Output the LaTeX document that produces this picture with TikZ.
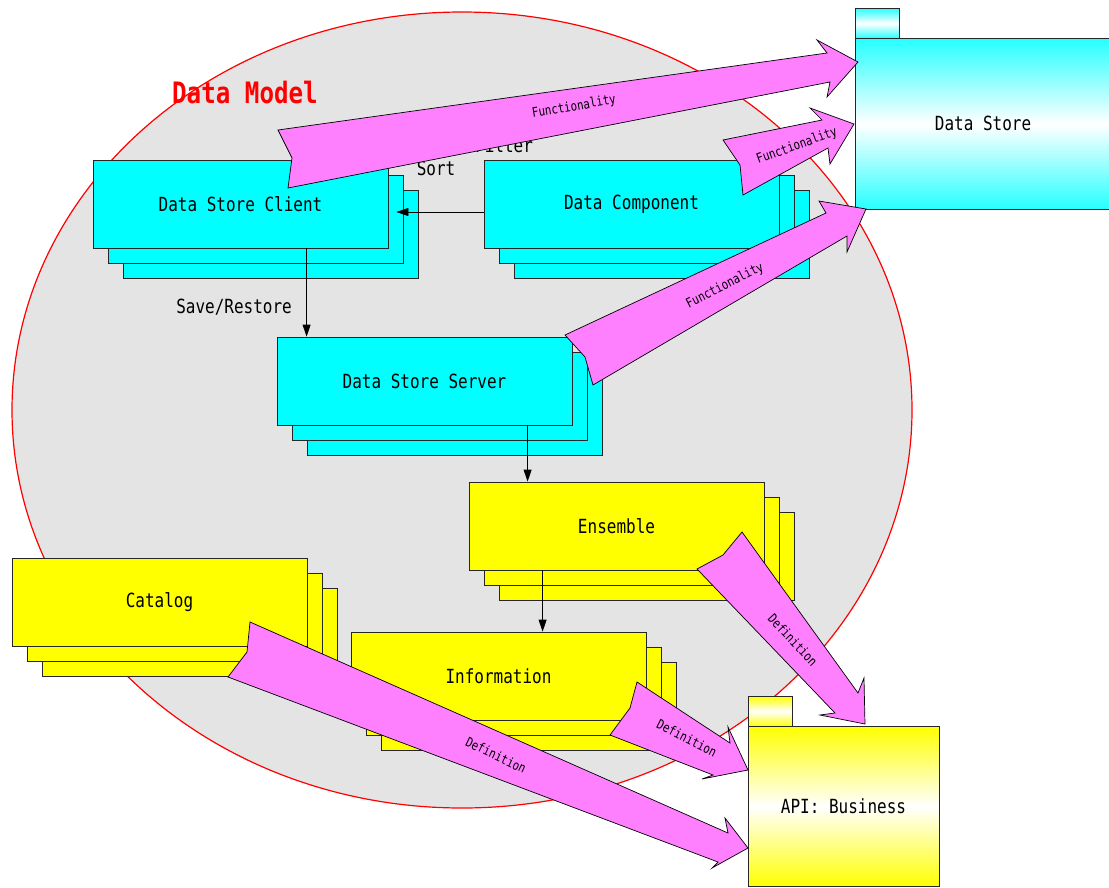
\documentclass[tikz,border=0pt]{standalone}
\usepackage{fontspec}
\usetikzlibrary{arrows.meta,calc}
\newfontfamily\boxfont[FakeStretch=0.82]{DejaVu Sans Mono}
\definecolor{pinkarrow}{HTML}{FF80FF}
\definecolor{modelgray}{HTML}{E4E4E4}
\definecolor{boxcyan}{HTML}{00FFFF}
\definecolor{boxyellow}{HTML}{FFFF00}
\tikzset{
  layer/.style={draw=black!85, line width=0.8pt, minimum width=295pt,
    minimum height=88pt, inner sep=0pt, anchor=center,
    font=\boxfont\fontsize{19.5}{22}\selectfont},
  cyanlayer/.style={layer, fill=boxcyan},
  yellowlayer/.style={layer, fill=boxyellow},
  plainlabel/.style={inner sep=0pt, font=\boxfont\fontsize{19.5}{22}\selectfont},
  conn/.style={draw=black, line width=0.8pt, -{Triangle[length=12pt,width=8pt]}},
  bigarrow/.style={draw=black, line width=0.7pt, fill=pinkarrow, line join=miter},
  arrowtext/.style={inner sep=0pt, font=\boxfont\fontsize{13.2}{15}\selectfont},
  storebox/.style={draw=black!85, line width=0.8pt, inner sep=0pt, anchor=north west,
    font=\boxfont\fontsize{19.5}{22}\selectfont}
}
\begin{document}
\begin{tikzpicture}[x=1pt,y=-1pt]
\useasboundingbox (0,0) rectangle (1109,887);
\clip (0,0) rectangle (1109,887);

% the Data Model region
\draw[red, line width=1.2pt, fill=modelgray] (462,410) ellipse [x radius=450pt, y radius=398pt];
\node[text=red, inner sep=0pt, font=\boxfont\bfseries\fontsize{29.5}{32}\selectfont] (title) at (245,92) {Data Model};

% Data Store Client
\node[cyanlayer] (dsc3) at (270.5,234) {};
\node[cyanlayer] (dsc2) at (255.5,219) {};
\node[cyanlayer] (dsc) at (240.5,204) {Data Store Client};

% Data Component
\node[cyanlayer] (dc3) at (661.5,234) {};
\node[cyanlayer] (dc2) at (646.5,219) {};
\node[cyanlayer] (dc) at (631.5,204) {Data Component};

% Data Store Server
\node[cyanlayer] (dss3) at (454.5,411) {};
\node[cyanlayer] (dss2) at (439.5,396) {};
\node[cyanlayer] (dss) at (424.5,381) {Data Store Server};

% Ensemble
\node[yellowlayer] (ens3) at (646.5,556) {};
\node[yellowlayer] (ens2) at (631.5,541) {};
\node[yellowlayer] (ens) at (616.5,526) {Ensemble};

% Information
\node[yellowlayer] (info3) at (528.5,706) {};
\node[yellowlayer] (info2) at (513.5,691) {};
\node[yellowlayer] (info) at (498.5,676) {Information};

% Catalog
\node[yellowlayer] (cat3) at (189.5,632) {};
\node[yellowlayer] (cat2) at (174.5,617) {};
\node[yellowlayer] (cat) at (159.5,602) {Catalog};

% plain labels
\node[plainlabel] (sort) at (436,168) {Sort};
\node[plainlabel] (filter) at (504,145) {Filter};
\node[plainlabel, anchor=east] (saverestore) at (292,307) {Save/Restore};

% connectors between the boxes
\draw[conn] ([yshift=-8pt]dc.west) -- ([xshift=8pt,yshift=-8pt]dsc.east);
\draw[conn] ([xshift=30pt]dss.north west |- dsc.south) -- ([xshift=30pt]dss.north west);
\draw[conn] ([xshift=59pt]ens.north west |- dss.south) -- ([xshift=59pt]ens.north west);
\draw[conn] ([xshift=192pt]info.north west |- ens.south) -- ([xshift=192pt]info.north west);

% Data Store package
\node[storebox, minimum width=44pt, minimum height=30pt,
  top color=boxcyan!85, bottom color=boxcyan!85, middle color=white] (dstab) at (855,8) {};
\node[storebox, minimum width=256pt, minimum height=171pt,
  top color=boxcyan!85, bottom color=boxcyan!85, middle color=white] (ds) at (855,38) {};
\node[plainlabel] (dslabel) at (983,123) {Data Store};

% API: Business package
\node[storebox, minimum width=44pt, minimum height=30pt,
  top color=boxyellow, bottom color=boxyellow, middle color=white] (apitab) at (748,696) {};
\node[storebox, minimum width=191pt, minimum height=160pt,
  top color=boxyellow, bottom color=boxyellow, middle color=white] (api) at (748,726) {};
\node[plainlabel] (apilabel) at (843.5,806) {API: Business};

% Functionality arrows
\draw[bigarrow] (278,130) -- (827,53) -- (817,40) -- (858,62) -- (827,97) -- (830,82)
  -- (288,188) -- (292,158) -- cycle;
\node[arrowtext, rotate=9.5] (f1) at (574,107) {Functionality};

\draw[bigarrow] (723,140) -- (822,120) -- (810,108) -- (854,124) -- (830,164) -- (828,148)
  -- (743,195) -- (740,165) -- cycle;
\node[arrowtext, rotate=20] (f2) at (797,146) {Functionality};

\draw[bigarrow] (565,335) -- (826,213) -- (819,201) -- (866,209) -- (847,252) -- (847,236)
  -- (593,385) -- (585,357) -- cycle;
\node[arrowtext, rotate=27] (f3) at (725,286) {Functionality};

% Definition arrows
\draw[bigarrow] (742,532) -- (858,693) -- (864,678) -- (865,724) -- (820,715) -- (835,713)
  -- (697,569) -- (723,555) -- cycle;
\node[arrowtext, rotate=-47] (d1) at (793,640) {Definition};

\draw[bigarrow] (637,682) -- (730,743) -- (728,727) -- (748,770) -- (702,779) -- (713,775)
  -- (610,735) -- (630,708) -- cycle;
\node[arrowtext, rotate=-27] (d2) at (687,738) {Definition};

\draw[bigarrow] (250,622) -- (728,833) -- (725,818) -- (748,848) -- (712,868) -- (718,862)
  -- (228,677) -- (247,652) -- cycle;
\node[arrowtext, rotate=-26] (d3) at (496,755) {Definition};
\end{tikzpicture}
\end{document}
